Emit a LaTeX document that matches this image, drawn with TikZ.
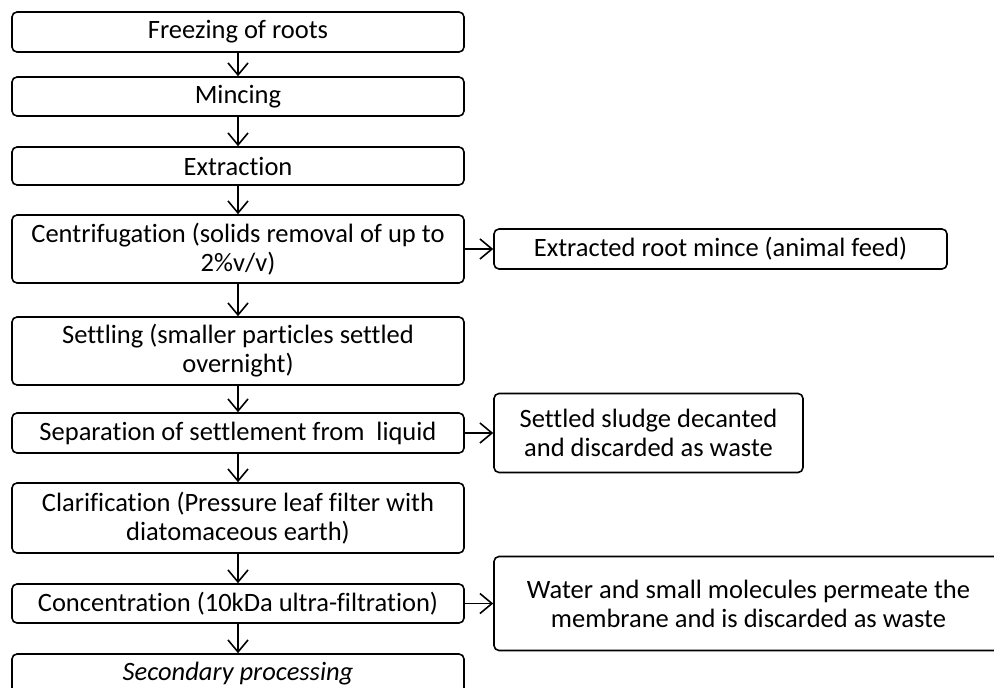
\documentclass[tikz,border=0pt]{standalone}
\usepackage{fontspec}
\setmainfont[Ligatures=NoCommon]{Carlito}
\usetikzlibrary{arrows.meta}
\begin{document}
\begin{tikzpicture}[x=1pt,y=-1pt,
 box/.style={draw, line width=1.6pt, rounded corners=5pt, align=center, inner sep=0pt, font=\fontsize{26.5}{29}\selectfont},
 lbox/.style={box, minimum width=452pt},
 arr/.style={line width=1.6pt, -{Straight Barb[length=12pt,width=20pt,line width=1.6pt]}}]
\useasboundingbox (0,0) rectangle (994,688);
\node[lbox, minimum height=40pt] (b1) at (238,32) {Freezing of roots};
\node[lbox, minimum height=39pt] (b2) at (238,96.5) {Mincing};
\node[lbox, minimum height=38pt] (b3) at (238,166) {Extraction};
\node[lbox, minimum height=68pt] (b4) at (238,249) {Centrifugation (solids removal of up to\\2\%v/v)};
\node[lbox, minimum height=68pt] (b5) at (238,351) {Settling (smaller particles settled\\overnight)};
\node[lbox, minimum height=40pt] (b6) at (238,433) {Separation of settlement from\ \ liquid};
\node[lbox, minimum height=70pt] (b7) at (238,518) {Clarification (Pressure leaf filter with\\diatomaceous earth)};
\node[lbox, minimum height=39pt] (b8) at (238,603.5) {Concentration (10kDa ultra-filtration)};
\node[lbox, minimum height=40pt] (b9) at (238,674) {\itshape Secondary processing};
\node[box, minimum width=453pt, minimum height=40pt] (r1) at (720.5,249) {Extracted root mince (animal feed)};
\node[box, minimum width=309pt, minimum height=79pt] (r2) at (648.5,433) {Settled sludge decanted\\and discarded as waste};
\node[box, minimum width=509pt, minimum height=94pt] (r3) at (748.5,603.5) {Water and small molecules permeate the\\membrane and is discarded as waste};
\draw[arr] (b1) -- (b2);
\draw[arr] (b2) -- (b3);
\draw[arr] (b3) -- (b4);
\draw[arr] (b4) -- (b5);
\draw[arr] (b5) -- (b6);
\draw[arr] (b6) -- (b7);
\draw[arr] (b7) -- (b8);
\draw[arr] (b8) -- (b9);
\draw[arr] (b4) -- (r1);
\draw[arr] (b6) -- (r2);
\draw[arr] (b8) -- (r3);
\end{tikzpicture}
\end{document}
